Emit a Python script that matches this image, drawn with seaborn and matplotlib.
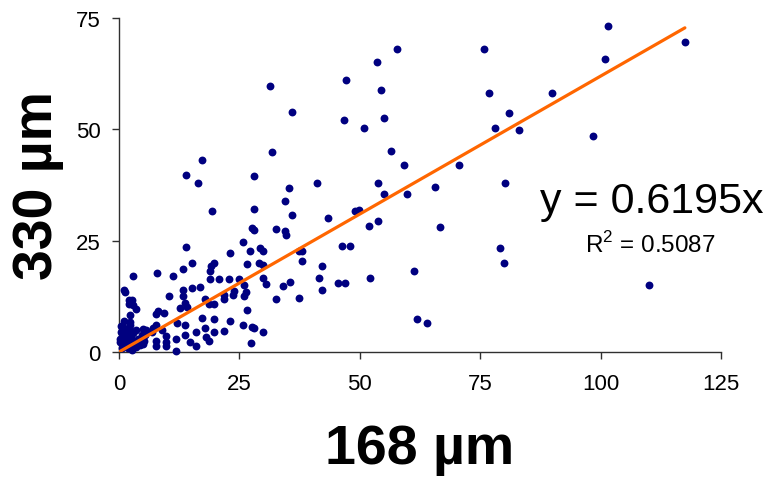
import matplotlib
matplotlib.use("Agg")
import matplotlib.pyplot as plt
import seaborn as sns
import pandas as pd

# values (168 um vs 330 um)
x_168 = [14.0, 17.2, 28.1, 31.3, 36.0, 31.8, 47.2, 46.7, 50.8, 53.5, 57.7, 54.5, 55.0, 56.4, 59.1,
         75.8, 76.8, 80.9, 78.0, 83.1, 70.6, 89.9, 98.5, 101.5, 100.9, 117.5,
         65.7, 80.1, 66.7, 79.1, 79.9, 110.0, 64.0, 61.9,
         16.4, 19.4, 28.1, 35.2, 34.5, 36.0, 41.1, 43.5, 32.5, 34.5, 34.7, 27.7, 28.1, 25.7, 27.1, 29.3,
         29.9, 26.6, 29.0, 29.8, 23.0, 14.0, 15.2, 13.3, 7.9, 11.3, 3.0, 19.1, 19.8, 18.9, 18.8, 20.8,
         22.8, 25.0, 25.9, 23.8, 23.7, 21.8, 21.9, 26.3, 25.9, 29.8, 30.6, 26.6, 32.5, 34.0, 35.5, 37.9,
         37.3, 37.9, 42.1, 41.6, 42.1, 37.4, 45.4, 47.0, 46.4, 47.9, 49.0, 49.9, 51.9, 53.7, 53.7, 55.0,
         59.9, 52.2, 61.3,
         18.7, 19.8, 17.8, 17.2, 19.8, 17.9, 19.8, 21.7, 23.0, 25.7, 27.7, 28.1, 29.9, 27.4, 18.0, 18.7,
         16.0, 15.9, 14.7, 13.8, 13.8, 12.0, 11.8, 11.8, 9.8, 9.8, 9.8, 7.6, 7.6, 8.9, 7.6, 7.6, 8.2,
         9.3, 10.3, 12.7, 13.7, 14.2, 13.2, 13.2, 15.1, 16.9, 6.8, 4.7, 3.5, 5.0, 5.7, 3.5, 2.8, 2.1,
         2.1, 2.2, 2.2, 1.0, 1.2,
         0.3, 0.5, 0.8, 1.0, 1.2, 1.5, 1.6, 2.0, 2.2, 2.5, 2.8, 3.0, 3.3, 3.6, 4.0, 4.3, 4.8, 5.2, 0.6,
         1.8, 0.2, 1.0, 0.4, 1.4, 2.6, 2.3, 3.0, 5.4, 7.1, 5.0]
y_330 = [39.7, 43.1, 39.5, 59.7, 53.9, 45.0, 61.0, 52.0, 50.2, 65.2, 68.0, 58.9, 52.6, 45.2, 42.1,
         68.0, 58.1, 53.6, 50.2, 49.9, 42.1, 58.1, 48.4, 73.1, 65.7, 69.7,
         37.1, 37.9, 28.1, 23.4, 20.0, 15.0, 6.4, 7.4,
         37.9, 31.6, 32.1, 36.8, 33.9, 30.8, 37.9, 30.2, 27.6, 27.1, 26.3, 27.9, 27.4, 24.8, 22.7, 23.4,
         22.7, 19.7, 20.0, 19.6, 22.2, 23.6, 20.0, 18.7, 17.7, 17.1, 17.1, 19.2, 20.0, 18.2, 16.3, 16.3,
         16.3, 16.3, 15.0, 13.7, 12.8, 12.7, 11.9, 13.4, 12.5, 16.6, 15.3, 9.5, 11.9, 14.8, 15.8, 20.4,
         22.7, 22.7, 19.2, 16.6, 14.0, 12.1, 15.6, 15.6, 23.9, 23.9, 31.6, 31.9, 28.4, 29.5, 37.9, 35.5,
         35.5, 16.6, 18.2,
         10.8, 10.8, 11.9, 7.6, 7.4, 5.5, 4.6, 4.8, 6.9, 6.1, 5.6, 5.5, 4.5, 2.0, 3.3, 2.5,
         4.6, 1.4, 2.2, 3.8, 6.1, 6.6, 2.9, 0.3, 3.5, 2.3, 1.4, 2.4, 1.4, 4.9, 6.1, 8.5, 9.1,
         8.7, 12.6, 9.8, 11.0, 10.2, 14.0, 12.6, 14.3, 14.5, 4.4, 2.4, 1.1, 5.2, 5.0, 9.6, 11.6, 11.6,
         10.8, 8.2, 6.8, 14.0, 13.4,
         3.0, 4.5, 2.0, 5.5, 3.5, 1.5, 4.0, 2.5, 5.0, 3.2, 1.2, 4.2, 2.0, 5.0, 3.0, 1.5, 3.8, 2.5, 1.0,
         0.8, 2.2, 7.0, 5.8, 2.8, 0.5, 6.0, 10.6, 3.8, 5.5, 1.7]
slope = 0.6195
r2 = 0.5087
x_ticks = [0, 25, 50, 75, 100, 125]
y_ticks = [0, 25, 50, 75]

df = pd.DataFrame({"x": x_168, "y": y_330})

sns.set_style("ticks")
plt.rcParams['font.family'] = ['Liberation Sans', 'DejaVu Sans']
plt.rcParams['mathtext.fontset'] = 'custom'
plt.rcParams['mathtext.rm'] = 'Liberation Sans'
plt.rcParams['text.color'] = 'black'
plt.rcParams['axes.labelcolor'] = 'black'
plt.rcParams['xtick.color'] = 'black'
plt.rcParams['ytick.color'] = 'black'

fig = plt.figure(figsize=(7.67, 4.81), dpi=100)
ax = fig.add_axes([119/767, 1-353/481, (721-119)/767, (353-19)/481])

sns.scatterplot(x='x', y='y', data=df, color='#000080', s=32, linewidth=0, ax=ax, clip_on=False, zorder=3)
xmax = df['x'].max()
fit = pd.DataFrame({"x": [0, xmax], "y": [0, slope*xmax]})
sns.lineplot(x='x', y='y', data=fit, color='#FF6600', linewidth=2.3, ax=ax, zorder=4)

ax.set_xlim(0, 125)
ax.set_ylim(0, 75)
ax.set_xticks(x_ticks)
ax.set_yticks(y_ticks)
sns.despine(ax=ax)
for s in ['left', 'bottom']:
    ax.spines[s].set_color('#303030')
    ax.spines[s].set_linewidth(1)
ax.tick_params(axis='both', which='major', labelsize=16, length=5, width=1, color='#303030', pad=8)
ax.tick_params(axis='x', pad=10)

ax.set_xlabel('168 µm', fontsize=40, fontweight='bold', labelpad=21)
ax.set_ylabel('330 µm', fontsize=40, fontweight='bold', labelpad=9)

fig.text(540/767, 1-213/481, f'y = {slope}x', fontsize=31, va='baseline', ha='left')
fig.text(585/767, 1-253/481, r'R$^{2}$ = ' + f'{r2}', fontsize=17.5, va='baseline', ha='left')

plt.savefig("out.png", dpi=100)
